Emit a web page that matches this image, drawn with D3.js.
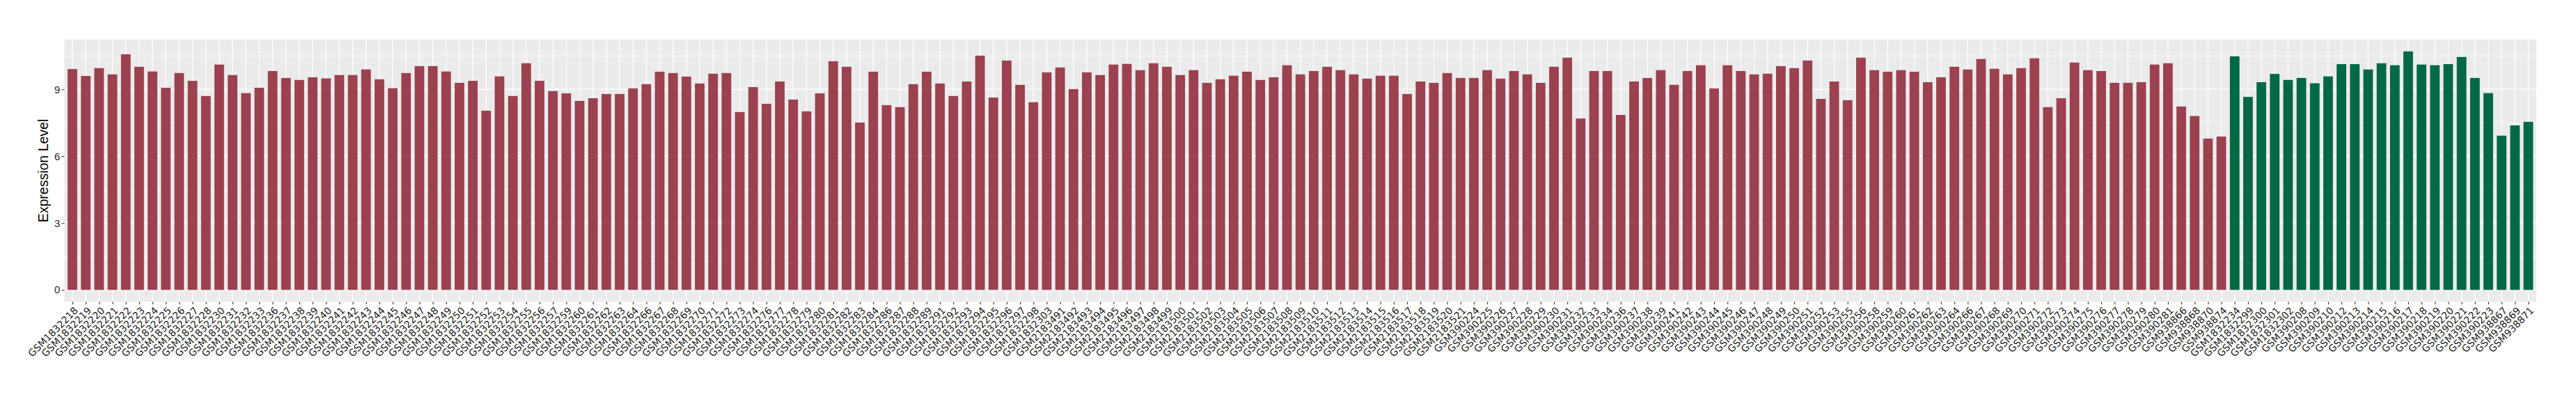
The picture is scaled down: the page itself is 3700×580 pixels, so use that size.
<!DOCTYPE html>
<html>
<head>
<meta charset="utf-8">
<script src="https://cdn.jsdelivr.net/npm/d3@7"></script>
<style>
  body { margin: 0; background: #fff; }
</style>
</head>
<body>
<script>
// samples of the first group (red bars)
const samplesA = [
  "GSM1832218","GSM1832219","GSM1832220","GSM1832221","GSM1832222","GSM1832223","GSM1832224","GSM1832225",
  "GSM1832226","GSM1832227","GSM1832228","GSM1832230","GSM1832231","GSM1832232","GSM1832233","GSM1832236",
  "GSM1832237","GSM1832238","GSM1832239","GSM1832240","GSM1832241","GSM1832242","GSM1832243","GSM1832244",
  "GSM1832245","GSM1832246","GSM1832247","GSM1832248","GSM1832249","GSM1832250","GSM1832251","GSM1832252",
  "GSM1832253","GSM1832254","GSM1832255","GSM1832256","GSM1832257","GSM1832259","GSM1832260","GSM1832261",
  "GSM1832262","GSM1832263","GSM1832264","GSM1832266","GSM1832267","GSM1832268","GSM1832269","GSM1832270",
  "GSM1832271","GSM1832272","GSM1832273","GSM1832274","GSM1832276","GSM1832277","GSM1832278","GSM1832279",
  "GSM1832280","GSM1832281","GSM1832282","GSM1832283","GSM1832284","GSM1832286","GSM1832287","GSM1832288",
  "GSM1832289","GSM1832291","GSM1832292","GSM1832293","GSM1832294","GSM1832295","GSM1832296","GSM1832297",
  "GSM1832298","GSM1832303","GSM2183491","GSM2183492","GSM2183493","GSM2183494","GSM2183495","GSM2183496",
  "GSM2183497","GSM2183498","GSM2183499","GSM2183500","GSM2183501","GSM2183502","GSM2183503","GSM2183504",
  "GSM2183505","GSM2183506","GSM2183507","GSM2183508","GSM2183509","GSM2183510","GSM2183511","GSM2183512",
  "GSM2183513","GSM2183514","GSM2183515","GSM2183516","GSM2183517","GSM2183518","GSM2183519","GSM2183520",
  "GSM2183521","GSM390224","GSM390225","GSM390226","GSM390227","GSM390228","GSM390229","GSM390230",
  "GSM390231","GSM390232","GSM390233","GSM390234","GSM390236","GSM390237","GSM390238","GSM390239",
  "GSM390241","GSM390242","GSM390243","GSM390244","GSM390245","GSM390246","GSM390247","GSM390248",
  "GSM390249","GSM390250","GSM390251","GSM390252","GSM390253","GSM390255","GSM390256","GSM390258",
  "GSM390259","GSM390260","GSM390261","GSM390262","GSM390263","GSM390264","GSM390266","GSM390267",
  "GSM390268","GSM390269","GSM390270","GSM390271","GSM390272","GSM390273","GSM390274","GSM390275",
  "GSM390276","GSM390277","GSM390278","GSM390279","GSM390280","GSM390281","GSM938866","GSM938868",
  "GSM938870","GSM938874"
];
const valuesA = [
  9.91, 9.60, 9.95, 9.67, 10.57, 10.01, 9.80, 9.07, 9.73, 9.38, 8.70, 10.11, 9.64, 8.83, 9.07, 9.82,
  9.51, 9.42, 9.54, 9.49, 9.64, 9.64, 9.89, 9.45, 9.05, 9.73, 10.04, 10.04, 9.80, 9.29, 9.38, 8.04,
  9.58, 8.70, 10.17, 9.38, 8.92, 8.82, 8.48, 8.60, 8.79, 8.79, 9.04, 9.23, 9.79, 9.73, 9.57, 9.26,
  9.70, 9.73, 7.98, 9.10, 8.35, 9.35, 8.54, 8.01, 8.82, 10.26, 10.01, 7.51, 9.79, 8.29, 8.20, 9.23,
  9.79, 9.26, 8.70, 9.35, 10.51, 8.63, 10.29, 9.20, 8.42, 9.76, 9.98, 9.01, 9.76, 9.64, 10.11, 10.14,
  9.86, 10.17, 10.01, 9.64, 9.86, 9.29, 9.45, 9.61, 9.79, 9.42, 9.54, 10.08, 9.67, 9.82, 10.01, 9.86,
  9.67, 9.48, 9.61, 9.61, 8.79, 9.35, 9.29, 9.73, 9.51, 9.51, 9.86, 9.48, 9.82, 9.67, 9.29, 10.01,
  10.42, 7.69, 9.82, 9.82, 7.85, 9.35, 9.51, 9.86, 9.20, 9.82, 10.08, 9.04, 10.08, 9.82, 9.67, 9.70,
  10.04, 9.95, 10.29, 8.57, 9.35, 8.51, 10.42, 9.86, 9.79, 9.86, 9.79, 9.32, 9.54, 10.01, 9.89, 10.36,
  9.92, 9.67, 9.95, 10.39, 8.20, 8.60, 10.20, 9.86, 9.82, 9.29, 9.29, 9.32, 10.11, 10.17, 8.23, 7.80,
  6.79, 6.88
];
// samples of the second group (green bars)
const samplesB = [
  "GSM1832234","GSM1832299","GSM1832300","GSM1832301","GSM1832302","GSM390208","GSM390209","GSM390210",
  "GSM390212","GSM390213","GSM390214","GSM390215","GSM390216","GSM390217","GSM390218","GSM390219",
  "GSM390220","GSM390221","GSM390222","GSM390223","GSM938867","GSM938869","GSM938871"
];
const valuesB = [
  10.48, 8.66, 9.32, 9.69, 9.42, 9.51, 9.27, 9.58, 10.13, 10.13, 9.89, 10.17, 10.08, 10.70, 10.11, 10.08,
  10.13, 10.45, 9.51, 8.83, 6.92, 7.38, 7.54
];
const yTicks = [0, 3, 6, 9];
const yMinor = [1.5, 4.5, 7.5, 10.5];

const colorA = "#9b4150";
const colorB = "#006844";

const data = samplesA.map((s, i) => ({ sample: s, value: valuesA[i], color: colorA }))
  .concat(samplesB.map((s, i) => ({ sample: s, value: valuesB[i], color: colorB })));

const width = 3700, height = 580;
const panel = { left: 92.5, right: 3643, top: 56.7, bottom: 433.3 };

const svg = d3.select("body").append("svg")
  .attr("width", width)
  .attr("height", height);

const maxV = d3.max(data, d => d.value);
const y = d3.scaleLinear()
  .domain([-0.05 * maxV, 1.05 * maxV])
  .range([panel.bottom, panel.top]);

const x = d3.scalePoint()
  .domain(data.map(d => d.sample))
  .range([panel.left, panel.right])
  .padding(0.6);

const barW = x.step() * 0.72;

// panel background
svg.append("rect")
  .attr("x", panel.left).attr("y", panel.top)
  .attr("width", panel.right - panel.left)
  .attr("height", panel.bottom - panel.top)
  .attr("fill", "#ebebeb");

// grid
svg.append("g").selectAll("line")
  .data(yMinor)
  .join("line")
  .attr("x1", panel.left).attr("x2", panel.right)
  .attr("y1", d => y(d)).attr("y2", d => y(d))
  .attr("stroke", "#fff").attr("stroke-width", 0.6);

svg.append("g").selectAll("line")
  .data(yTicks)
  .join("line")
  .attr("x1", panel.left).attr("x2", panel.right)
  .attr("y1", d => y(d)).attr("y2", d => y(d))
  .attr("stroke", "#fff").attr("stroke-width", 1.2);

svg.append("g").selectAll("line")
  .data(data)
  .join("line")
  .attr("x1", d => x(d.sample)).attr("x2", d => x(d.sample))
  .attr("y1", panel.top).attr("y2", panel.bottom)
  .attr("stroke", "#fff").attr("stroke-width", 1.2);

// bars
svg.append("g").selectAll("rect")
  .data(data)
  .join("rect")
  .attr("x", d => x(d.sample) - barW / 2)
  .attr("width", barW)
  .attr("y", d => y(d.value))
  .attr("height", d => y(0) - y(d.value))
  .attr("fill", d => d.color);

// y axis
const yAxis = svg.append("g")
  .attr("transform", `translate(${panel.left},0)`)
  .call(d3.axisLeft(y).tickValues(yTicks).tickSize(3.7).tickPadding(2.5).tickFormat(d3.format("d")));
yAxis.select(".domain").remove();
yAxis.selectAll("line").attr("stroke", "#333").attr("stroke-width", 1.1);
yAxis.selectAll("text")
  .attr("fill", "#2b2b2b")
  .style("font-family", "'Liberation Sans', Arial, sans-serif")
  .style("font-size", "15px");

// x axis
const xAxis = svg.append("g")
  .attr("transform", `translate(0,${panel.bottom})`)
  .call(d3.axisBottom(x).tickSize(3.7).tickPadding(0));
xAxis.select(".domain").remove();
xAxis.selectAll("line").attr("stroke", "#333").attr("stroke-width", 1.1);
xAxis.selectAll("text")
  .attr("fill", "#222")
  .style("font-family", "'DejaVu Sans', sans-serif")
  .style("font-size", "14px")
  .attr("text-anchor", "end")
  .attr("transform", "translate(1,6) rotate(-45)")
  .attr("x", 0).attr("y", 0)
  .attr("dy", "0.75em");

// y title
svg.append("text")
  .attr("transform", `translate(69,${(panel.top + panel.bottom) / 2}) rotate(-90)`)
  .attr("text-anchor", "middle")
  .style("font-family", "'Liberation Sans', Arial, sans-serif")
  .style("font-size", "19.5px")
  .attr("fill", "#000")
  .text("Expression Level");
</script>
</body>
</html>
